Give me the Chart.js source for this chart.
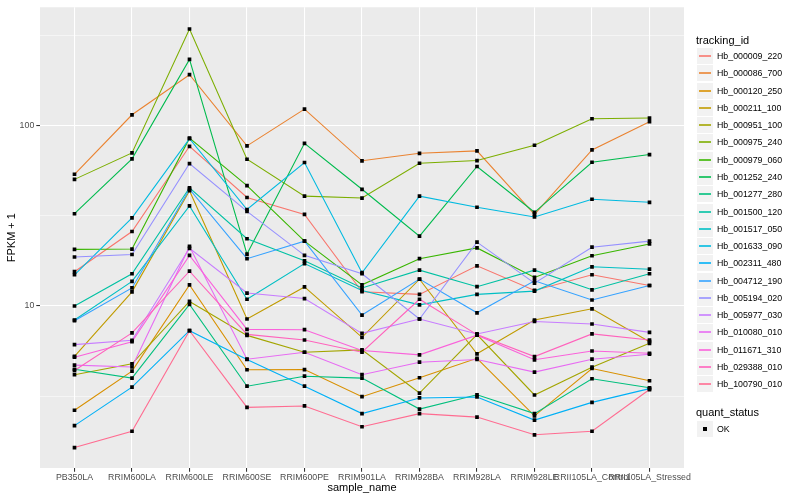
<!DOCTYPE html>
<html>
<head>
<meta charset="utf-8">
<script src="https://cdn.jsdelivr.net/npm/chart.js@4.4.0/dist/chart.umd.min.js"></script>
<style>
    body { margin: 0; background: #fff; }
    #wrap { position: relative; width: 800px; height: 500px; font-family: "Liberation Sans", Arial, sans-serif; }
    #chart { position: absolute; left: 0; top: 0; }
    .legend-title { position: absolute; left: 696px; font-size: 11px; line-height: 13px; color: #000; white-space: nowrap; }
    .legend-key { position: absolute; left: 697px; width: 16px; height: 16px; background: #F2F2F2; }
    .legend-line { position: absolute; left: 2px; width: 12px; height: 2px; top: 7px; opacity: 0.8; }
    .legend-dot { position: absolute; left: 6px; top: 6px; width: 4px; height: 4px; background: #000; }
    .legend-text { position: absolute; left: 717px; font-size: 8.8px; line-height: 17px; color: #000; white-space: nowrap; }
</style>
</head>
<body>
<div id="wrap">
    <canvas id="chart" width="800" height="500"></canvas>
</div>
<script>
const sampleNames = ['PB350LA', 'RRIM600LA', 'RRIM600LE', 'RRIM600SE', 'RRIM600PE', 'RRIM901LA',
    'RRIM928BA', 'RRIM928LA', 'RRIM928LE', 'RRII105LA_Control', 'RRII105LA_Stressed'];

const trackingIds = ['Hb_000009_220', 'Hb_000086_700', 'Hb_000120_250', 'Hb_000211_100', 'Hb_000951_100',
    'Hb_000975_240', 'Hb_000979_060', 'Hb_001252_240', 'Hb_001277_280', 'Hb_001500_120',
    'Hb_001517_050', 'Hb_001633_090', 'Hb_002311_480', 'Hb_004712_190', 'Hb_005194_020',
    'Hb_005977_030', 'Hb_010080_010', 'Hb_011671_310', 'Hb_029388_010', 'Hb_100790_010'];

const quantStatus = ['OK'];

// FPKM + 1, one value per sample
const hb_000009_220 = [15.5, 25.9, 76.9, 40.0, 32.2, 12.0, 11.6, 16.7, 12.2, 14.9, 13.0];
const hb_000086_700 = [53.8, 115.0, 191.9, 77.3, 123.7, 63.9, 70.3, 72.5, 32.2, 73.4, 105.2];
const hb_000120_250 = [2.64, 4.35, 13.1, 4.43, 4.44, 3.14, 4.0, 5.13, 2.46, 4.5, 3.85];
const hb_000211_100 = [5.26, 11.98, 43.6, 8.47, 12.76, 6.7, 14.08, 5.43, 8.36, 9.65, 6.34];
const hb_000951_100 = [4.16, 4.78, 10.6, 6.87, 5.54, 5.71, 3.29, 6.94, 3.21, 4.58, 6.21];
const hb_000975_240 = [50.4, 70.7, 344, 65.2, 40.7, 39.7, 61.9, 64.1, 77.9, 109.3, 110.3];
const hb_000979_060 = [20.6, 20.7, 85.3, 46.5, 22.9, 13.1, 18.3, 21.0, 14.4, 19.0, 22.1];
const hb_001252_240 = [32.5, 65.5, 233.4, 19.4, 79.9, 44.4, 24.4, 59.4, 33.1, 62.7, 69.2];
const hb_001277_280 = [4.46, 3.98, 10.2, 3.59, 4.08, 3.98, 2.68, 3.22, 2.53, 3.95, 3.52];
const hb_001500_120 = [10.0, 15.1, 45.3, 23.6, 17.8, 12.6, 15.8, 12.8, 15.8, 12.3, 15.1];
const hb_001517_050 = [8.36, 13.7, 35.9, 10.9, 17.2, 12.2, 10.15, 11.6, 12.1, 16.5, 16.0];
const hb_001633_090 = [14.9, 30.8, 84.8, 34.3, 62.5, 15.3, 40.7, 35.3, 31.2, 39.1, 37.6];
const hb_002311_480 = [2.17, 3.55, 7.3, 5.05, 3.59, 2.53, 3.09, 3.13, 2.33, 2.92, 3.48];
const hb_004712_190 = [8.29, 12.6, 44.5, 18.3, 22.9, 8.91, 14.1, 9.17, 13.8, 10.8, 13.0];
const hb_005194_020 = [18.7, 19.3, 61.7, 33.5, 19.1, 15.1, 8.47, 22.6, 13.4, 21.2, 22.9];
const hb_005977_030 = [6.11, 6.45, 20.9, 11.8, 11.0, 7.05, 8.47, 7.0, 8.21, 7.95, 7.14];
const hb_010080_010 = [4.7, 4.59, 21.4, 5.07, 5.54, 4.16, 4.88, 5.05, 4.3, 5.07, 5.4];
const hb_011671_310 = [5.2, 6.34, 19.1, 7.42, 7.39, 5.66, 5.36, 6.89, 5.03, 5.63, 5.47];
const hb_029388_010 = [4.39, 7.09, 15.6, 6.96, 6.48, 5.54, 10.9, 6.94, 5.24, 7.0, 6.48];
const hb_100790_010 = [1.64, 2.02, 7.3, 2.74, 2.79, 2.14, 2.53, 2.42, 1.93, 2.02, 3.44];

const seriesValues = [hb_000009_220, hb_000086_700, hb_000120_250, hb_000211_100, hb_000951_100,
    hb_000975_240, hb_000979_060, hb_001252_240, hb_001277_280, hb_001500_120,
    hb_001517_050, hb_001633_090, hb_002311_480, hb_004712_190, hb_005194_020,
    hb_005977_030, hb_010080_010, hb_011671_310, hb_029388_010, hb_100790_010];

const yLabelTicks = [10, 100];
const yMinorTicks = [3.1623, 31.623, 316.23];

const seriesColors = ['#F8766D', '#EA8331', '#D89000', '#C09B00', '#A3A500', '#7CAE00', '#39B600',
    '#00BB4E', '#00BF7D', '#00C1A3', '#00BFC4', '#00BAE0', '#00B0F6', '#35A2FF', '#9590FF',
    '#C77CFF', '#E76BF3', '#FA62DB', '#FF62BC', '#FF6C91'];

Chart.defaults.font.family = '"Liberation Sans", Arial, sans-serif';

const panelBackground = {
    id: 'panelBackground',
    beforeDraw(chart) {
        const { ctx, chartArea } = chart;
        ctx.save();
        ctx.fillStyle = '#EBEBEB';
        ctx.fillRect(chartArea.left, chartArea.top, chartArea.right - chartArea.left, chartArea.bottom - chartArea.top);
        ctx.restore();
    }
};

function toPoints(values) {
    return values.map((v, i) => ({ x: i, y: v }));
}

const lineDatasets = seriesValues.map((values, i) => ({
    label: trackingIds[i],
    data: toPoints(values),
    borderColor: seriesColors[i],
    borderWidth: 1.1,
    pointRadius: 0,
    tension: 0,
    fill: false,
    order: 100 - i
}));

const pointDataset = {
    label: quantStatus[0],
    data: seriesValues.flatMap(values => toPoints(values)),
    showLine: false,
    pointStyle: 'rect',
    pointRadius: 2.6,
    pointBackgroundColor: '#000000',
    pointBorderWidth: 0,
    order: 0
};

const isLabelTick = v => yLabelTicks.some(t => Math.abs(t - v) < 1e-6);

new Chart(document.getElementById('chart').getContext('2d'), {
    type: 'line',
    data: { datasets: [...lineDatasets, pointDataset] },
    options: {
        responsive: false,
        animation: false,
        layout: { padding: { left: 0, right: 116, top: 5, bottom: 0 } },
        plugins: {
            legend: { display: false },
            tooltip: { enabled: false }
        },
        scales: {
            x: {
                type: 'linear',
                min: -0.6,
                max: 10.6,
                afterBuildTicks: scale => { scale.ticks = sampleNames.map((_, i) => ({ value: i })); },
                afterFit: scale => { scale.height = 32; },
                ticks: {
                    callback: value => sampleNames[value],
                    autoSkip: false,
                    maxRotation: 0,
                    minRotation: 0,
                    padding: 1,
                    color: '#4D4D4D',
                    font: { size: 8.8 }
                },
                grid: {
                    color: '#FFFFFF',
                    lineWidth: 1.07,
                    tickColor: '#333333',
                    tickLength: 3.7,
                    tickWidth: 1.07
                },
                border: { display: false },
                title: {
                    display: true,
                    text: 'sample_name',
                    color: '#000000',
                    font: { size: 11 },
                    padding: { top: 0, bottom: 5.4 }
                }
            },
            y: {
                type: 'logarithmic',
                min: 1.263,
                max: 454,
                afterBuildTicks: scale => {
                    scale.ticks = [...yMinorTicks, ...yLabelTicks].sort((a, b) => a - b).map(v => ({ value: v }));
                },
                afterFit: scale => { scale.width = 40; },
                ticks: {
                    callback: value => isLabelTick(value) ? String(Math.round(value)) : '',
                    autoSkip: false,
                    padding: 2,
                    color: '#4D4D4D',
                    font: { size: 8.8 }
                },
                grid: {
                    color: '#FFFFFF',
                    lineWidth: ctx => isLabelTick(ctx.tick.value) ? 1.07 : 0.53,
                    tickColor: ctx => isLabelTick(ctx.tick.value) ? '#333333' : 'rgba(0,0,0,0)',
                    tickLength: 3.7,
                    tickWidth: 1.07
                },
                border: { display: false },
                title: {
                    display: true,
                    text: 'FPKM + 1',
                    color: '#000000',
                    font: { size: 11 },
                    padding: { top: 5, bottom: 0 }
                }
            }
        }
    },
    plugins: [panelBackground]
});

function buildLegend() {
    const wrap = document.getElementById('wrap');
    const rowHeight = 17.28;

    const title = document.createElement('div');
    title.className = 'legend-title';
    title.style.top = '34px';
    title.textContent = 'tracking_id';
    wrap.appendChild(title);

    trackingIds.forEach((id, i) => {
        const top = Math.round(48 + i * rowHeight);
        const key = document.createElement('div');
        key.className = 'legend-key';
        key.style.top = top + 'px';
        const line = document.createElement('div');
        line.className = 'legend-line';
        line.style.background = seriesColors[i];
        key.appendChild(line);
        wrap.appendChild(key);

        const text = document.createElement('div');
        text.className = 'legend-text';
        text.style.top = top + 'px';
        text.textContent = id;
        wrap.appendChild(text);
    });

    const statusTitle = document.createElement('div');
    statusTitle.className = 'legend-title';
    statusTitle.style.top = '406px';
    statusTitle.textContent = 'quant_status';
    wrap.appendChild(statusTitle);

    quantStatus.forEach((status, i) => {
        const top = Math.round(421 + i * rowHeight);
        const key = document.createElement('div');
        key.className = 'legend-key';
        key.style.top = top + 'px';
        const dot = document.createElement('div');
        dot.className = 'legend-dot';
        key.appendChild(dot);
        wrap.appendChild(key);

        const text = document.createElement('div');
        text.className = 'legend-text';
        text.style.top = top + 'px';
        text.textContent = status;
        wrap.appendChild(text);
    });
}

buildLegend();
</script>
</body>
</html>
